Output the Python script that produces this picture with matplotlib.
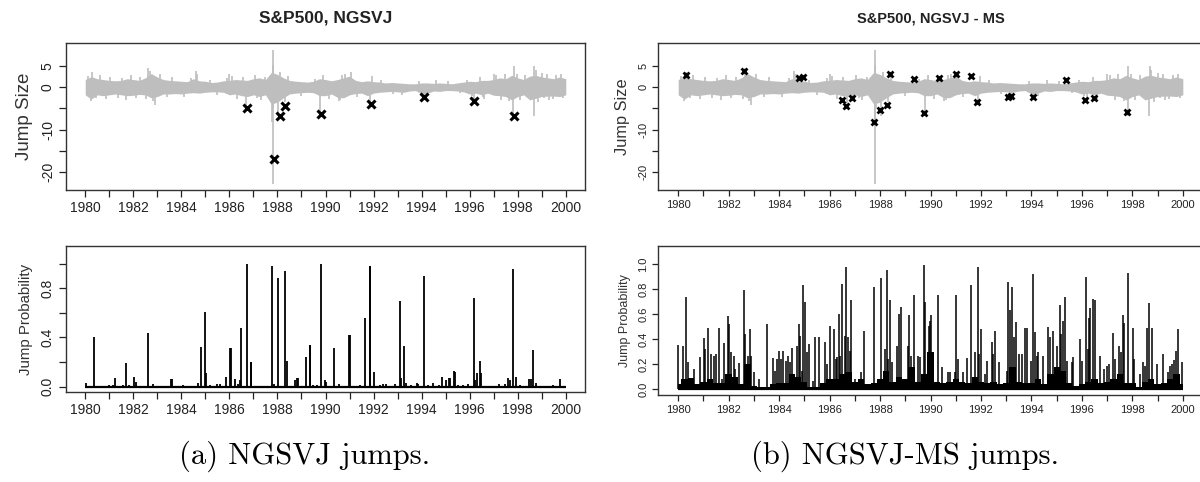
import numpy as np
import matplotlib
matplotlib.use("Agg")
import matplotlib.pyplot as plt

plt.rcParams['font.family'] = ['Liberation Sans', 'DejaVu Sans']

# ---- data ----
# S&P500 daily returns (%), drawn as a quarterly envelope plus single large days
ret_dates = [1980 + q / 4 for q in range(81)]
ret_upper = [1.8, 2.5, 2.0, 1.8, 1.6, 1.5, 1.6, 2.0, 1.8, 1.6, 2.2, 3.2, 2.4, 1.8, 1.6, 1.5,
             1.4, 1.3, 2.0, 1.5, 1.4, 1.1, 1.2, 1.5, 1.6, 1.8, 1.7, 1.6, 2.0, 2.2, 1.8, 3.5,
             3.0, 2.2, 1.6, 1.4, 1.3, 1.2, 1.4, 2.0, 1.8, 1.5, 1.8, 2.2, 2.6, 1.6, 1.3, 1.5,
             1.3, 1.2, 1.0, 1.1, 1.0, 0.9, 0.8, 0.8, 1.0, 1.0, 0.9, 1.0, 0.9, 0.8, 1.0, 1.2,
             1.4, 1.3, 1.6, 1.6, 1.8, 2.2, 2.0, 2.8, 2.2, 1.8, 2.6, 2.8, 2.4, 2.2, 2.0, 2.4, 2.0]
ret_lower = [-1.8, -2.8, -1.8, -2.0, -1.8, -1.6, -1.8, -2.0, -1.9, -1.7, -1.8, -2.5, -2.2, -1.6, -1.6, -1.5,
             -1.6, -1.4, -1.3, -1.4, -1.2, -1.1, -1.1, -1.2, -1.8, -1.6, -2.0, -2.2, -1.8, -2.2, -1.8, -4.0,
             -3.5, -2.5, -1.6, -1.4, -1.3, -1.2, -1.3, -2.0, -2.0, -1.6, -2.4, -2.5, -1.8, -1.5, -1.4, -2.0,
             -1.4, -1.2, -1.1, -1.0, -1.1, -1.2, -0.9, -0.8, -1.6, -1.4, -0.9, -1.0, -0.8, -0.8, -0.9, -1.1,
             -1.6, -1.4, -1.8, -1.4, -1.9, -2.0, -2.2, -3.0, -2.2, -1.8, -3.0, -2.6, -2.2, -2.1, -2.1, -2.2, -1.8]
spike_dates = [1980.10, 1980.25, 1980.30, 1980.45, 1980.60, 1980.85, 1981.05, 1981.35, 1981.55, 1981.70,
               1981.90, 1982.10, 1982.30, 1982.55, 1982.63, 1982.70, 1982.80, 1982.90, 1983.10, 1983.40,
               1983.60, 1984.10, 1984.40, 1984.60, 1984.65, 1985.20, 1985.50, 1985.90, 1986.00, 1986.10,
               1986.30, 1986.55, 1986.70, 1987.05, 1987.15, 1987.30, 1987.50, 1987.70, 1987.79, 1987.80,
               1987.81, 1987.82, 1987.83, 1988.02, 1988.10, 1988.30, 1988.45, 1989.00, 1989.55, 1989.78,
               1989.90, 1990.15, 1990.55, 1990.60, 1990.70, 1990.80, 1991.05, 1991.30, 1991.87, 1991.95,
               1992.30, 1992.80, 1993.20, 1993.90, 1994.09, 1994.25, 1994.60, 1995.10, 1995.60, 1995.90,
               1996.10, 1996.19, 1996.45, 1996.55, 1996.60, 1997.00, 1997.10, 1997.30, 1997.45, 1997.65,
               1997.82, 1997.83, 1997.95, 1998.10, 1998.30, 1998.66, 1998.69, 1998.75, 1998.85, 1999.00,
               1999.10, 1999.20, 1999.30, 1999.45, 1999.60, 1999.80, 1999.90]
spike_vals = [2.6, -3.2, 3.6, -2.6, 2.8, -2.8, 2.4, -2.5, 2.2, -3.0,
              2.8, -2.6, 2.4, -2.8, 4.6, 3.8, -3.2, -4.2, 3.0, -2.2,
              2.4, -2.4, 2.2, 3.8, 3.0, 1.8, -1.8, 2.2, 3.0, 2.6,
              -2.8, 2.5, -4.8, 2.8, -2.6, -3.0, 2.5, -3.0, -8.3, -22.9,
              8.7, 5.3, -5.0, -6.8, 3.6, -3.5, 2.6, -2.0, 2.0, -6.1,
              2.8, -2.8, -3.2, -3.0, 2.8, 3.0, 3.6, -2.2, -3.7, 2.6,
              1.8, -1.6, -1.9, 1.4, -2.3, -2.0, 1.6, 1.4, -1.4, 1.8,
              -2.0, -3.1, 2.3, -2.4, -2.8, 3.0, 2.8, -3.0, 3.0, -3.2,
              -6.9, 5.1, 3.0, -3.0, 2.8, -6.8, 5.1, 4.0, -3.5, 3.4,
              -2.6, 3.2, -3.0, -2.8, 2.8, 3.2, -2.6]

# estimated jumps
jump_a_dates = [1986.73, 1987.84, 1988.09, 1988.31, 1989.81, 1991.90, 1994.10, 1996.18, 1997.85]
jump_a_sizes = [-5.0, -16.8, -6.8, -4.5, -6.3, -3.9, -2.4, -3.2, -6.7]
jump_b_dates = [1980.29, 1982.62, 1984.77, 1984.95, 1986.48, 1986.67, 1986.87, 1987.75, 1987.99,
                1988.28, 1988.40, 1989.33, 1989.76, 1990.32, 1991.01, 1991.59, 1991.85, 1993.06,
                1993.21, 1994.05, 1995.37, 1996.14, 1996.47, 1997.78]
jump_b_sizes = [2.9, 3.7, 2.2, 2.3, -3.0, -4.5, -2.5, -8.3, -5.4,
                -4.2, 3.0, 1.9, -6.1, 2.2, 3.2, 2.7, -3.5, -2.4,
                -2.1, -2.3, 1.6, -3.1, -2.5, -5.8]

# jump probabilities, NGSVJ
prob_a_dates = [1980.04, 1980.37, 1981.00, 1981.14, 1981.25, 1981.58, 1981.68, 1981.83, 1982.02, 1982.10,
                1982.63, 1982.83, 1983.59, 1983.61, 1984.06, 1984.70, 1984.83, 1985.00, 1985.04, 1985.21,
                1985.50, 1985.62, 1985.87, 1986.04, 1986.06, 1986.24, 1986.34, 1986.45, 1986.50, 1986.74,
                1986.88, 1986.90, 1987.76, 1987.85, 1988.02, 1988.30, 1988.39, 1988.72, 1988.82, 1988.84,
                1989.17, 1989.34, 1989.36, 1989.48, 1989.66, 1989.82, 1989.97, 1990.00, 1990.37, 1990.58,
                1990.99, 1991.01, 1991.45, 1991.63, 1991.85, 1991.87, 1992.00, 1992.27, 1992.41, 1992.52,
                1992.90, 1993.09, 1993.14, 1993.25, 1993.35, 1993.55, 1993.79, 1993.86, 1994.08, 1994.27,
                1994.48, 1994.72, 1994.86, 1995.02, 1995.13, 1995.20, 1995.33, 1995.38, 1995.50, 1995.71,
                1995.91, 1996.17, 1996.23, 1996.29, 1996.43, 1996.48, 1997.21, 1997.45, 1997.60, 1997.68,
                1997.80, 1997.94, 1998.10, 1998.49, 1998.54, 1998.62, 1998.75, 1999.48, 1999.75]
prob_a_vals = [0.03, 0.40, 0.01, 0.01, 0.07, 0.01, 0.19, 0.01, 0.08, 0.04,
               0.44, 0.02, 0.06, 0.06, 0.01, 0.03, 0.32, 0.61, 0.11, 0.01,
               0.02, 0.02, 0.08, 0.31, 0.31, 0.06, 0.02, 0.05, 0.48, 0.995,
               0.20, 0.20, 0.98, 0.02, 0.88, 0.94, 0.21, 0.05, 0.07, 0.07,
               0.24, 0.34, 0.34, 0.01, 0.01, 1.00, 0.055, 0.04, 0.31, 0.02,
               0.42, 0.42, 0.01, 0.56, 0.98, 0.98, 0.12, 0.01, 0.02, 0.02,
               0.02, 0.70, 0.07, 0.33, 0.03, 0.01, 0.03, 0.02, 0.90, 0.01,
               0.03, 0.01, 0.08, 0.05, 0.07, 0.07, 0.13, 0.12, 0.01, 0.01,
               0.02, 0.72, 0.05, 0.11, 0.21, 0.11, 0.02, 0.02, 0.07, 0.05,
               0.96, 0.08, 0.01, 0.06, 0.06, 0.30, 0.03, 0.01, 0.06]

# jump probabilities, NGSVJ-MS
prob_b_dates = [1980.01, 1980.18, 1980.29, 1980.40, 1980.62, 1980.85, 1981.02, 1981.07, 1981.18, 1981.29,
                1981.41, 1981.50, 1981.60, 1981.72, 1981.81, 1981.98, 1982.02, 1982.10, 1982.20, 1982.26,
                1982.40, 1982.59, 1982.63, 1982.77, 1982.83, 1982.90, 1983.02, 1983.22, 1983.51, 1983.75,
                1983.84, 1983.91, 1984.00, 1984.08, 1984.17, 1984.26, 1984.34, 1984.43, 1984.52, 1984.70,
                1984.77, 1984.84, 1984.90, 1984.94, 1985.02, 1985.10, 1985.17, 1985.36, 1985.44, 1985.58,
                1985.81, 1985.89, 1986.00, 1986.17, 1986.25, 1986.31, 1986.39, 1986.43, 1986.50, 1986.62,
                1986.66, 1986.72, 1986.79, 1986.84, 1987.01, 1987.24, 1987.36, 1987.78, 1988.02, 1988.19,
                1988.27, 1988.33, 1988.40, 1988.49, 1988.66, 1988.76, 1988.84, 1989.09, 1989.15, 1989.22,
                1989.36, 1989.52, 1989.59, 1989.73, 1989.78, 1989.94, 1989.98, 1990.02, 1990.31, 1990.44,
                1990.68, 1990.77, 1990.97, 1991.02, 1991.10, 1991.30, 1991.43, 1991.60, 1991.76, 1991.87,
                1991.93, 1992.00, 1992.16, 1992.25, 1992.42, 1992.49, 1992.55, 1992.70, 1993.03, 1993.09,
                1993.15, 1993.24, 1993.30, 1993.37, 1993.50, 1993.61, 1993.75, 1993.83, 1993.98, 1994.08,
                1994.15, 1994.22, 1994.27, 1994.47, 1994.64, 1994.73, 1994.86, 1995.03, 1995.13, 1995.19,
                1995.26, 1995.35, 1995.42, 1995.59, 1995.66, 1995.92, 1996.00, 1996.17, 1996.23, 1996.28,
                1996.33, 1996.46, 1996.50, 1996.71, 1996.86, 1996.99, 1997.07, 1997.24, 1997.31, 1997.48,
                1997.55, 1997.61, 1997.66, 1997.81, 1998.01, 1998.06, 1998.30, 1998.43, 1998.51, 1998.59,
                1998.65, 1998.79, 1998.96, 1999.21, 1999.42, 1999.50, 1999.58, 1999.66, 1999.74, 1999.80,
                1999.97]
prob_b_vals = [0.355, 0.345, 0.74, 0.22, 0.16, 0.26, 0.41, 0.32, 0.49, 0.28,
               0.27, 0.28, 0.49, 0.085, 0.37, 0.585, 0.52, 0.30, 0.27, 0.165,
               0.21, 0.79, 0.44, 0.27, 0.48, 0.27, 0.14, 0.085, 0.525, 0.25,
               0.15, 0.245, 0.31, 0.245, 0.31, 0.23, 0.27, 0.22, 0.33, 0.35,
               0.52, 0.43, 0.15, 0.83, 0.70, 0.30, 0.36, 0.07, 0.42, 0.42,
               0.38, 0.20, 0.51, 0.48, 0.24, 0.26, 0.60, 0.27, 0.845, 0.43,
               0.98, 0.42, 0.31, 0.71, 0.085, 0.14, 0.47, 0.82, 0.885, 0.32,
               0.955, 0.245, 0.71, 0.22, 0.35, 0.60, 0.655, 0.35, 0.59, 0.27,
               0.75, 0.27, 0.26, 0.995, 0.695, 0.51, 0.55, 0.595, 0.75, 0.18,
               0.14, 0.14, 0.14, 0.75, 0.245, 0.14, 0.25, 0.83, 0.30, 0.98,
               0.28, 0.48, 0.125, 0.23, 0.375, 0.28, 0.47, 0.22, 0.15, 0.86,
               0.63, 0.815, 0.42, 0.54, 0.28, 0.28, 0.49, 0.49, 0.23, 0.92,
               0.46, 0.27, 0.30, 0.27, 0.50, 0.42, 0.47, 0.35, 0.67, 0.44,
               0.55, 0.74, 0.23, 0.22, 0.26, 0.40, 0.23, 0.90, 0.32, 0.57,
               0.65, 0.72, 0.71, 0.27, 0.165, 0.19, 0.20, 0.45, 0.245, 0.35,
               0.30, 0.595, 0.53, 0.93, 0.49, 0.245, 0.125, 0.22, 0.19, 0.49,
               0.69, 0.49, 0.205, 0.28, 0.14, 0.185, 0.205, 0.235, 0.31, 0.48,
               0.22]
# dense mass of small daily probabilities (quarterly level)
floor_b = [0.04, 0.08, 0.09, 0.04, 0.06, 0.08, 0.05, 0.05, 0.12, 0.10, 0.04, 0.20, 0.03, 0.02, 0.02, 0.04,
           0.05, 0.05, 0.12, 0.10, 0.06, 0.02, 0.02, 0.05, 0.08, 0.08, 0.12, 0.14, 0.06, 0.08, 0.04, 0.05,
           0.08, 0.15, 0.06, 0.10, 0.08, 0.18, 0.06, 0.12, 0.30, 0.06, 0.05, 0.06, 0.08, 0.06, 0.05, 0.10,
           0.06, 0.05, 0.06, 0.04, 0.05, 0.18, 0.06, 0.05, 0.05, 0.08, 0.04, 0.12, 0.18, 0.15, 0.05, 0.03,
           0.04, 0.06, 0.08, 0.05, 0.06, 0.08, 0.12, 0.05, 0.05, 0.02, 0.06, 0.08, 0.04, 0.05, 0.08, 0.12, 0.04]

year_ticks = list(range(1980, 2001))
size_ticks = [-20, -15, -10, -5, 0, 5]
size_labels = ['-20', '', '-10', '', '0', '5']
prob_ticks = [0.0, 0.2, 0.4, 0.6, 0.8, 1.0]

W, H = 1200, 482
fig = plt.figure(figsize=(W / 100, H / 100), dpi=100)


def add_axes_px(left, top, right, bottom):
    return fig.add_axes([left / W, 1 - bottom / H, (right - left) / W, (bottom - top) / H])


def style_axes(ax, fs, ticklen):
    ax.set_xlim(1979.2, 2000.8)
    ax.set_xticks(year_ticks)
    ax.set_xticklabels([str(y) if y % 2 == 0 else '' for y in year_ticks])
    ax.tick_params(direction='out', length=ticklen, width=0.9, labelsize=fs, colors='#222222', pad=3)
    ax.tick_params(axis='y', labelrotation=90)
    for lbl in ax.get_yticklabels():
        lbl.set_va('center')
    for s in ax.spines.values():
        s.set_linewidth(1.0)
        s.set_color('#333333')


def draw_returns(ax):
    ax.fill_between(ret_dates, ret_lower, ret_upper, color='#bebebe', lw=0)
    ax.vlines(spike_dates, 0, spike_vals, color='#bebebe', lw=1.2)


# ---------- (a) NGSVJ ----------
ax1 = add_axes_px(66, 43, 585, 190)
draw_returns(ax1)
ax1.plot(jump_a_dates, jump_a_sizes, 'x', color='black', ms=6, mew=2.2)
ax1.set_ylim(-24.2, 10.4)
ax1.set_yticks(size_ticks)
ax1.set_yticklabels(size_labels)
style_axes(ax1, 10, 5)
ax1.set_ylabel('Jump Size', fontsize=13.5, color='#333333', labelpad=6)
ax1.set_title('S&P500, NGSVJ', fontsize=12.5, fontweight='bold', color='#222222', pad=15)

ax2 = add_axes_px(66, 246, 585, 392)
ax2.vlines(prob_a_dates, 0, prob_a_vals, color='black', lw=1.3)
ax2.hlines(0, 1980.0, 1999.99, color='black', lw=1.6)
ax2.set_ylim(-0.044, 1.144)
ax2.set_yticks(prob_ticks)
ax2.set_yticklabels(['0.0', '', '0.4', '', '0.8', ''])
style_axes(ax2, 10, 5)
ax2.set_ylabel('Jump Probability', fontsize=10.8, color='#333333', labelpad=6)

# ---------- (b) NGSVJ-MS ----------
ax3 = add_axes_px(658, 43, 1203, 190)
draw_returns(ax3)
ax3.plot(jump_b_dates, jump_b_sizes, 'x', color='black', ms=5, mew=2.0)
ax3.set_ylim(-24.2, 10.4)
ax3.set_yticks(size_ticks)
ax3.set_yticklabels(size_labels)
style_axes(ax3, 8, 4)
ax3.set_ylabel('Jump Size', fontsize=11.8, color='#333333', labelpad=6)
ax3.set_title('S&P500, NGSVJ - MS', fontsize=10.5, fontweight='bold', color='#222222', pad=15)

ax4 = add_axes_px(658, 246, 1203, 395)
ax4.fill_between(ret_dates, 0, floor_b, step='mid', color='black', lw=0)
ax4.vlines(prob_b_dates, 0, prob_b_vals, color='black', lw=1.1)
ax4.hlines(0, 1980.0, 1999.99, color='black', lw=1.6)
ax4.set_ylim(-0.044, 1.144)
ax4.set_yticks(prob_ticks)
ax4.set_yticklabels(['0.0', '0.2', '0.4', '0.6', '0.8', '1.0'])
style_axes(ax4, 8, 4)
ax4.set_ylabel('Jump Probability', fontsize=9, color='#333333', labelpad=5)

# captions
fig.text(305 / W, 1 - 456 / H, '(a) NGSVJ jumps.', family='cmr10', fontsize=22,
         ha='center', va='center')
fig.text(905 / W, 1 - 456 / H, '(b) NGSVJ-MS jumps.', family='cmr10', fontsize=22,
         ha='center', va='center')

fig.savefig('out.png', dpi=100)
